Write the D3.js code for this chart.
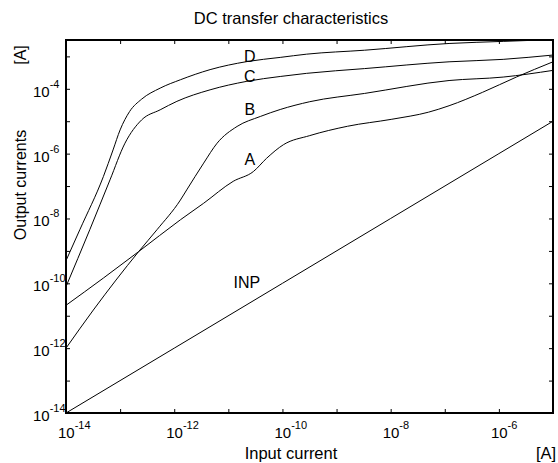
<!DOCTYPE html>
<html><head><meta charset="utf-8">
<script src="https://cdn.jsdelivr.net/npm/d3@7"></script>
<style>body{margin:0;background:#fff} text{font-family:"Liberation Sans",Arial,Helvetica,sans-serif;fill:#000}</style>
</head><body><svg id="chart" width="558" height="463"></svg>
<script>
// ---- data ----
const title = "DC transfer characteristics";
const xAxisTitle = "Input current";
const yAxisTitle = "Output currents";
const unitLabel = "[A]";
const xTickExponents = [-14, -12, -10, -8, -6];
const yTickExponents = [-14, -12, -10, -8, -6, -4];
const xDomain = [1e-14, 1e-5];
const yDomain = [1e-14, 3.2e-3];

const inpX = [1e-14, 1e-12, 1e-10, 1e-8, 1e-6, 1e-5];
const inpY = [1e-14, 1e-12, 1e-10, 1e-8, 1e-6, 1e-5];

const aX = [1e-14, 4.9e-14, 2.2e-13, 1.3e-12, 3.5e-12, 1.23e-11, 2.9e-11, 5.1e-11, 1.05e-10, 3.2e-10, 1.6e-9, 1.05e-8, 5e-8, 1.2e-7, 5e-7, 2.1e-6, 1e-5];
const aY = [2.1e-11, 1.45e-10, 9.5e-10, 9.1e-9, 2.95e-8, 1.4e-7, 2.8e-7, 7.2e-7, 1.9e-6, 3.6e-6, 7.0e-6, 1.15e-5, 1.9e-5, 3.0e-5, 7.8e-5, 2.3e-4, 6.8e-4];

const bX = [1e-14, 3.2e-14, 2.2e-13, 4.8e-13, 1.3e-12, 1.7e-12, 3.5e-12, 6.2e-12, 1.45e-11, 3.9e-11, 9.1e-11, 3.2e-10, 3.3e-9, 1.2e-7, 1.2e-6, 1e-5];
const bY = [1e-12, 1.5e-11, 9.5e-10, 4.5e-9, 3.7e-8, 7.6e-8, 5.1e-7, 2.1e-6, 6.9e-6, 1.4e-5, 2.3e-5, 4.0e-5, 7.2e-5, 1.8e-4, 2.3e-4, 3.7e-4];

const cX = [1e-14, 2.75e-14, 6.5e-14, 1.23e-13, 2.5e-13, 5.5e-13, 1.12e-12, 4.6e-12, 2.2e-11, 9.1e-11, 2.8e-10, 3.3e-9, 1.2e-7, 1.2e-6, 1e-5];
const cY = [7.9e-11, 4.5e-9, 1.55e-7, 2.1e-6, 1.1e-5, 2.25e-5, 4.1e-5, 9.3e-5, 1.7e-4, 2.4e-4, 3.0e-4, 4.2e-4, 6.8e-4, 8.1e-4, 1.1e-3];

const dX = [1e-14, 1.8e-14, 4.9e-14, 7.4e-14, 1e-13, 1.5e-13, 2.5e-13, 5.5e-13, 1.3e-12, 4.6e-12, 2.2e-11, 9.1e-11, 2.8e-10, 3.3e-9, 1.2e-7, 1.2e-6, 1e-5];
const dY = [5.0e-10, 4.5e-9, 1.95e-7, 1.3e-6, 5.4e-6, 2.0e-5, 4.8e-5, 1.05e-4, 1.9e-4, 3.9e-4, 6.9e-4, 9.3e-4, 1.17e-3, 1.55e-3, 2.5e-3, 2.9e-3, 3.3e-3];

const curveNames = ["INP", "A", "B", "C", "D"];
const labelX = [2.2e-11, 2.5e-11, 2.5e-11, 2.5e-11, 2.5e-11];
const labelY = [7.2e-11, 4.5e-7, 1.55e-5, 1.6e-4, 6.8e-4];

// ---- layout ----
const svg = d3.select("#chart");
const L = 66, R = 553, T = 40, B = 413;
const x = d3.scaleLog().domain(xDomain).range([L, R]);
const y = d3.scaleLog().domain(yDomain).range([B, T]);

svg.append("defs").append("clipPath").attr("id", "clip")
  .append("rect").attr("x", L).attr("y", T).attr("width", R - L).attr("height", B - T);

const series = [[inpX, inpY], [aX, aY], [bX, bY], [cX, cY], [dX, dY]];
const line = d3.line().x(d => x(d[0])).y(d => y(d[1])).curve(d3.curveMonotoneX);
const g = svg.append("g").attr("clip-path", "url(#clip)");
series.forEach(([xs, ys]) => {
  g.append("path").datum(xs.map((v, i) => [v, ys[i]]))
    .attr("d", line).attr("fill", "none").attr("stroke", "#000").attr("stroke-width", 1);
});

// decade ticks (inward, all four sides)
const xDec = d3.range(-14, -4).map(e => Math.pow(10, e));
const yDec = d3.range(-14, -2).map(e => Math.pow(10, e));
const tk = 4;
svg.append("g").attr("transform", `translate(0,${B})`)
  .call(d3.axisBottom(x).tickValues(xDec).tickSize(-tk).tickFormat(""))
  .call(a => a.select(".domain").remove());
svg.append("g").attr("transform", `translate(0,${T})`)
  .call(d3.axisTop(x).tickValues(xDec).tickSize(-tk).tickFormat(""))
  .call(a => a.select(".domain").remove());
svg.append("g").attr("transform", `translate(${L},0)`)
  .call(d3.axisLeft(y).tickValues(yDec).tickSize(-tk).tickFormat(""))
  .call(a => a.select(".domain").remove());
svg.append("g").attr("transform", `translate(${R},0)`)
  .call(d3.axisRight(y).tickValues(yDec).tickSize(-tk).tickFormat(""))
  .call(a => a.select(".domain").remove());
svg.selectAll(".tick line").attr("stroke", "#000").attr("stroke-width", 1);

// tick labels
const fs = 15, sfs = 11;
xTickExponents.forEach(e => {
  const t = svg.append("text").attr("x", x(Math.pow(10, e)) - 8).attr("y", B + 25)
    .attr("font-size", fs);
  t.append("tspan").text("10");
  t.append("tspan").attr("dy", -9).attr("font-size", sfs).text(String(e));
});
yTickExponents.forEach(e => {
  const t = svg.append("text").attr("x", 33).attr("y", y(Math.pow(10, e)) + 8)
    .attr("font-size", fs);
  t.append("tspan").text("10");
  t.append("tspan").attr("dy", -9).attr("font-size", sfs).text(String(e));
});

// frame
svg.append("rect").attr("x", L).attr("y", T).attr("width", R - L).attr("height", B - T)
  .attr("fill", "none").attr("stroke", "#000").attr("stroke-width", 2);

// curve labels
curveNames.forEach((n, i) => {
  svg.append("text").attr("x", x(labelX[i])).attr("y", y(labelY[i]))
    .attr("font-size", 16).attr("text-anchor", "middle").text(n);
});

// titles
svg.append("text").attr("x", 291).attr("y", 24).attr("font-size", 16.5)
  .attr("text-anchor", "middle").text(title);
svg.append("text").attr("x", 291).attr("y", 459).attr("font-size", 16.5)
  .attr("text-anchor", "middle").text(xAxisTitle);
svg.append("text").attr("x", 546).attr("y", 459).attr("font-size", 16.5)
  .attr("text-anchor", "middle").text(unitLabel);
svg.append("text").attr("transform", "translate(26,185) rotate(-90)").attr("font-size", 16)
  .attr("text-anchor", "middle").text(yAxisTitle);
svg.append("text").attr("transform", "translate(26,55) rotate(-90)").attr("font-size", 16)
  .attr("text-anchor", "middle").text(unitLabel);
</script></body></html>
